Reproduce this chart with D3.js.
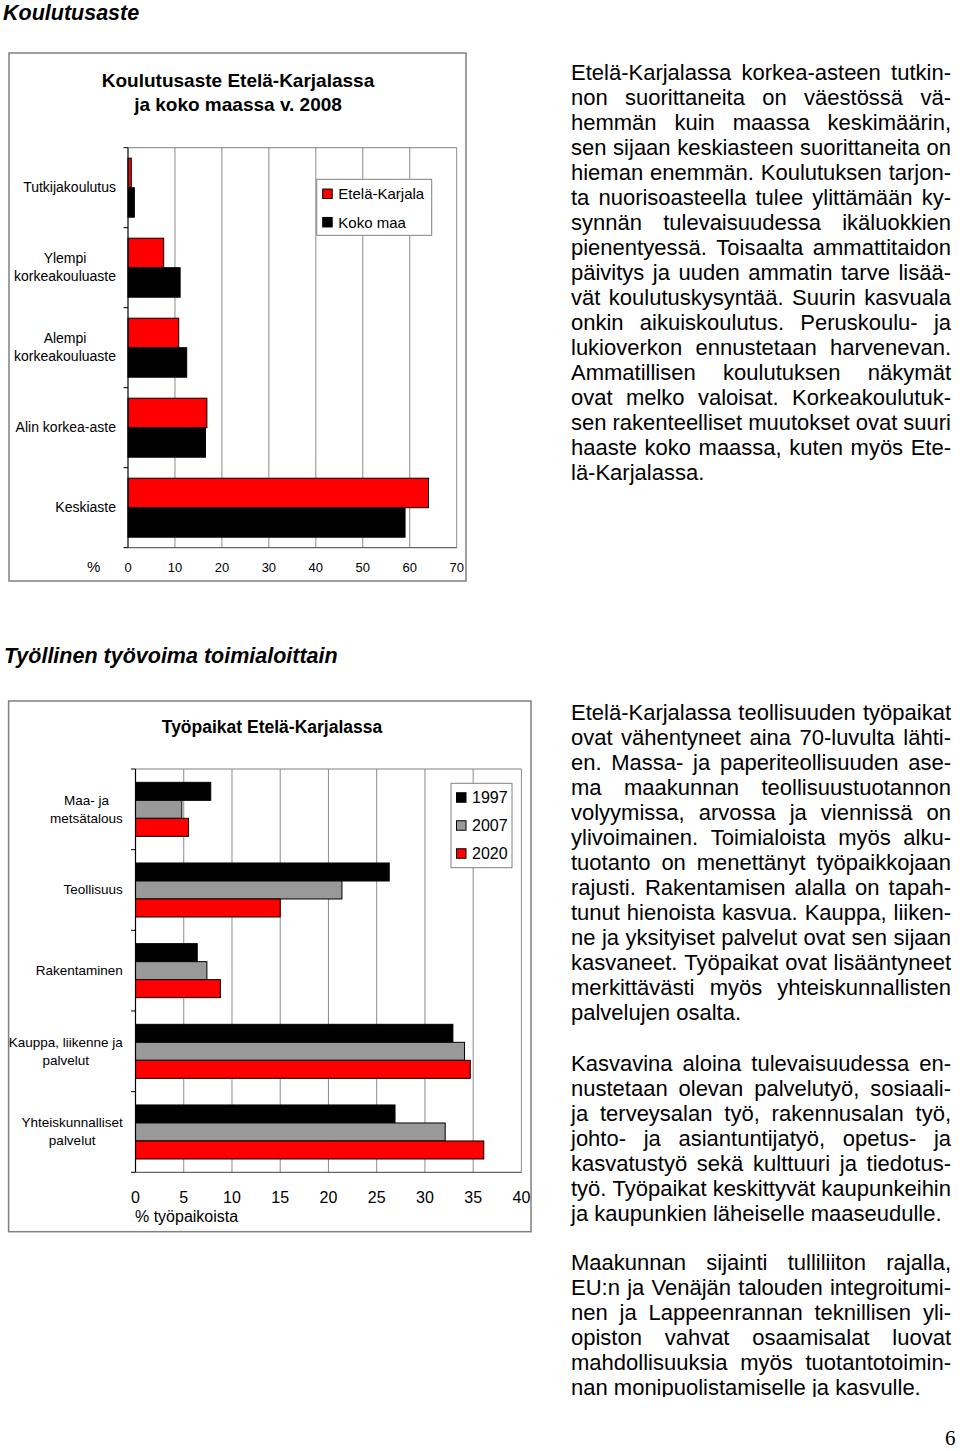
<!DOCTYPE html>
<html>
<head>
<meta charset="utf-8">
<script src="https://cdn.jsdelivr.net/npm/d3@7"></script>
<style>
  html, body { margin: 0; padding: 0; background: #fff; }
  svg { display: block; }
  text { font-family: "Liberation Sans", Arial, sans-serif; fill: #000; }
</style>
</head>
<body>
<script>
// ---------------- DATA ----------------
const eduCategories = ["Tutkijakoulutus", "Ylempi\nkorkeakouluaste", "Alempi\nkorkeakouluaste", "Alin korkea-aste", "Keskiaste"];
const eduSeriesNames = ["Etelä-Karjala", "Koko maa"];
const eduEtelaKarjala = [0.7, 7.6, 10.8, 16.8, 64.0];
const eduKokoMaa = [1.35, 11.1, 12.5, 16.5, 59.0];
const eduTicks = [0, 10, 20, 30, 40, 50, 60, 70];

const jobCategories = ["Maa- ja\nmetsätalous", "Teollisuus", "Rakentaminen", "Kauppa, liikenne ja\npalvelut", "Yhteiskunnalliset\npalvelut"];
const jobSeriesNames = ["1997", "2007", "2020"];
const jobs1997 = [7.8, 26.3, 6.4, 32.9, 26.9];
const jobs2007 = [4.8, 21.4, 7.4, 34.1, 32.1];
const jobs2020 = [5.5, 15.0, 8.8, 34.7, 36.1];
const jobTicks = [0, 5, 10, 15, 20, 25, 30, 35, 40];

const para1 = [
  "Etelä-Karjalassa korkea-asteen tutkin-",
  "non suorittaneita on väestössä vä-",
  "hemmän kuin maassa keskimäärin,",
  "sen sijaan keskiasteen suorittaneita on",
  "hieman enemmän. Koulutuksen tarjon-",
  "ta nuorisoasteella tulee ylittämään ky-",
  "synnän tulevaisuudessa ikäluokkien",
  "pienentyessä. Toisaalta ammattitaidon",
  "päivitys ja uuden ammatin tarve lisää-",
  "vät koulutuskysyntää. Suurin kasvuala",
  "onkin aikuiskoulutus. Peruskoulu- ja",
  "lukioverkon ennustetaan harvenevan.",
  "Ammatillisen koulutuksen näkymät",
  "ovat melko valoisat. Korkeakoulutuk-",
  "sen rakenteelliset muutokset ovat suuri",
  "haaste koko maassa, kuten myös Ete-",
  "lä-Karjalassa."
];
const para2 = [
  "Etelä-Karjalassa teollisuuden työpaikat",
  "ovat vähentyneet aina 70-luvulta lähti-",
  "en. Massa- ja paperiteollisuuden ase-",
  "ma maakunnan teollisuustuotannon",
  "volyymissa, arvossa ja viennissä on",
  "ylivoimainen. Toimialoista myös alku-",
  "tuotanto on menettänyt työpaikkojaan",
  "rajusti. Rakentamisen alalla on tapah-",
  "tunut hienoista kasvua. Kauppa, liiken-",
  "ne ja yksityiset palvelut ovat sen sijaan",
  "kasvaneet. Työpaikat ovat lisääntyneet",
  "merkittävästi myös yhteiskunnallisten",
  "palvelujen osalta."
];
const para3 = [
  "Kasvavina aloina tulevaisuudessa en-",
  "nustetaan olevan palvelutyö, sosiaali-",
  "ja terveysalan työ, rakennusalan työ,",
  "johto- ja asiantuntijatyö, opetus- ja",
  "kasvatustyö sekä kulttuuri ja tiedotus-",
  "työ. Työpaikat keskittyvät kaupunkeihin",
  "ja kaupunkien läheiselle maaseudulle."
];
const para4 = [
  "Maakunnan sijainti tulliliiton rajalla,",
  "EU:n ja Venäjän talouden integroitumi-",
  "nen ja Lappeenrannan teknillisen yli-",
  "opiston vahvat osaamisalat luovat",
  "mahdollisuuksia myös tuotantotoimin-",
  "nan monipuolistamiselle ja kasvulle."
];

// ---------------- SETUP ----------------
const W = 960, H = 1451;
const svg = d3.select("body").append("svg").attr("width", W).attr("height", H);

const measure = svg.append("text").attr("x", -1000).attr("y", -1000);
function textWidth(str, size, weight) {
  measure.attr("font-size", size).attr("font-weight", weight || "normal").text(str);
  return measure.node().getComputedTextLength();
}

// Section headings
svg.append("text").attr("x", 3).attr("y", 19.5)
  .attr("font-size", 21.5).attr("font-weight", "bold").attr("font-style", "italic")
  .text("Koulutusaste");
svg.append("text").attr("x", 4).attr("y", 663)
  .attr("font-size", 21.5).attr("font-weight", "bold").attr("font-style", "italic")
  .text("Työllinen työvoima toimialoittain");

// ---------------- Generic bar chart ----------------
function barChart(o) {
  const g = svg.append("g");
  // outer box
  g.append("rect").attr("x", o.box[0]).attr("y", o.box[1])
    .attr("width", o.box[2] - o.box[0]).attr("height", o.box[3] - o.box[1])
    .attr("fill", "#fff").attr("stroke", "#808080").attr("stroke-width", 1.5);

  // title
  o.title.forEach((t, i) => {
    g.append("text").attr("x", o.titleX).attr("y", o.titleY + i * o.titleLH)
      .attr("text-anchor", "middle").attr("font-size", o.titleSize).attr("font-weight", "bold")
      .text(t);
  });

  const x = d3.scaleLinear().domain([o.ticks[0], o.ticks[o.ticks.length - 1]]).range([o.plot[0], o.plot[1]]);
  const y = d3.scaleBand().domain(o.categories).range([o.plot[2], o.plot[3]]).padding(0);

  // gridlines
  g.append("g").selectAll("line").data(o.ticks.slice(1)).join("line")
    .attr("x1", d => x(d)).attr("x2", d => x(d))
    .attr("y1", o.plot[2]).attr("y2", o.plot[3])
    .attr("stroke", "#8c8c8c").attr("stroke-width", 1);
  // plot border top
  g.append("line").attr("x1", o.plot[0]).attr("x2", o.plot[1]).attr("y1", o.plot[2]).attr("y2", o.plot[2])
    .attr("stroke", "#808080").attr("stroke-width", 1);

  // bars
  const bw = y.bandwidth();
  const n = o.series.length;
  const total = o.barH * n;
  const off = (bw - total) / 2;
  o.series.forEach((vals, si) => {
    g.append("g").selectAll("rect").data(vals).join("rect")
      .attr("x", x(0))
      .attr("y", (d, i) => y(o.categories[i]) + off + si * o.barH)
      .attr("width", d => x(d) - x(0))
      .attr("height", o.barH)
      .attr("fill", o.colors[si])
      .attr("stroke", "#000").attr("stroke-width", 1);
  });

  // bottom axis line
  g.append("line").attr("x1", o.plot[0]).attr("x2", o.plot[1]).attr("y1", o.plot[3]).attr("y2", o.plot[3])
    .attr("stroke", "#404040").attr("stroke-width", 1);
  // left axis
  g.append("line").attr("x1", o.plot[0]).attr("x2", o.plot[0]).attr("y1", o.plot[2]).attr("y2", o.plot[3])
    .attr("stroke", "#000").attr("stroke-width", 1.2);
  const bounds = d3.range(o.categories.length + 1).map(i => o.plot[2] + i * bw);
  g.append("g").selectAll("line").data(bounds).join("line")
    .attr("x1", o.plot[0] - 4.5).attr("x2", o.plot[0]).attr("y1", d => d).attr("y2", d => d)
    .attr("stroke", "#000").attr("stroke-width", 1);

  // tick labels
  g.append("g").selectAll("text").data(o.ticks).join("text")
    .attr("x", d => x(d)).attr("y", o.tickY)
    .attr("text-anchor", "middle").attr("font-size", o.tickSize)
    .text(d => d);

  // category labels
  o.categories.forEach(c => {
    const lines = c.split("\n");
    const maxW = d3.max(lines, l => textWidth(l, o.catSize));
    const cx = o.catRight - maxW / 2;
    const cy = y(c) + bw / 2;
    lines.forEach((l, i) => {
      g.append("text").attr("x", cx)
        .attr("y", cy + o.catSize * 0.33 - (lines.length - 1) * o.catLH / 2 + i * o.catLH)
        .attr("text-anchor", "middle").attr("font-size", o.catSize).text(l);
    });
  });

  // legend
  const L = o.legend;
  g.append("rect").attr("x", L.box[0]).attr("y", L.box[1])
    .attr("width", L.box[2] - L.box[0]).attr("height", L.box[3] - L.box[1])
    .attr("fill", "#fff").attr("stroke", "#808080").attr("stroke-width", 1);
  o.seriesNames.forEach((s, i) => {
    const cy = L.firstY + i * L.step;
    g.append("rect").attr("x", L.sqX).attr("y", cy - L.sq / 2).attr("width", L.sq).attr("height", L.sq)
      .attr("fill", o.colors[i]).attr("stroke", "#000").attr("stroke-width", 1);
    g.append("text").attr("x", L.textX).attr("y", cy + L.size * 0.36)
      .attr("font-size", L.size).text(s);
  });
  return { g, x, y };
}

// ---------------- Chart 1 ----------------
const c1 = barChart({
  box: [9, 53, 466, 581],
  title: ["Koulutusaste Etelä-Karjalassa", "ja koko maassa v. 2008"],
  titleX: 238, titleY: 86.5, titleLH: 24.5, titleSize: 19,
  plot: [128, 456.7, 147.7, 547.7],
  categories: eduCategories,
  series: [eduEtelaKarjala, eduKokoMaa],
  seriesNames: eduSeriesNames,
  colors: ["#ff0000", "#000000"],
  ticks: eduTicks,
  barH: 29.5,
  tickY: 572, tickSize: 13,
  catRight: 116, catSize: 14, catLH: 18,
  legend: { box: [316.7, 179.3, 431.7, 235.3], sqX: 322.7, sq: 9.5, firstY: 193.8, step: 28.4, textX: 338.3, size: 15 }
});
c1.g.append("text").attr("x", 93.7).attr("y", 572).attr("text-anchor", "middle")
  .attr("font-size", 15).text("%");

// ---------------- Chart 2 ----------------
const c2 = barChart({
  box: [8.6, 701, 531, 1231.7],
  title: ["Työpaikat Etelä-Karjalassa"],
  titleX: 272, titleY: 733, titleLH: 0, titleSize: 17.5,
  plot: [135.5, 521.4, 769, 1172.3],
  categories: jobCategories,
  series: [jobs1997, jobs2007, jobs2020],
  seriesNames: jobSeriesNames,
  colors: ["#000000", "#999999", "#ff0000"],
  ticks: jobTicks,
  barH: 18,
  tickY: 1202.5, tickSize: 16,
  catRight: 122.8, catSize: 13.5, catLH: 18,
  legend: { box: [451, 783.3, 512, 867.7], sqX: 456.5, sq: 9.5, firstY: 797.5, step: 28, textX: 472, size: 16 }
});
c2.g.append("text").attr("x", 135).attr("y", 1221.5).attr("font-size", 16).text("% työpaikoista");

// ---------------- Justified paragraphs ----------------
svg.append("defs").append("clipPath").attr("id", "pageclip")
  .append("rect").attr("x", 0).attr("y", 0).attr("width", W).attr("height", 1397);
const textG = svg.append("g").attr("clip-path", "url(#pageclip)");
const PX = 571, PW = 380, FS = 22, LH = 25;

function paragraph(lines, y0) {
  lines.forEach((line, i) => {
    const y = y0 + i * LH;
    const t = textG.append("text").attr("y", y).attr("font-size", FS);
    const last = i === lines.length - 1;
    const words = line.split(" ");
    if (last || words.length < 2) {
      t.attr("x", PX).text(line);
      return;
    }
    const widths = words.map(w => textWidth(w, FS));
    const gap = (PW - d3.sum(widths)) / (words.length - 1);
    let cx = PX;
    words.forEach((w, k) => {
      t.append("tspan").attr("x", cx).text(w + (k < words.length - 1 ? " " : ""));
      cx += widths[k] + gap;
    });
  });
}
paragraph(para1, 80);
paragraph(para2, 719.5);
paragraph(para3, 1070.5);
paragraph(para4, 1270);

// page number
svg.append("text").attr("x", 945).attr("y", 1445)
  .style("font-family", "'Liberation Serif', 'Times New Roman', serif")
  .attr("font-size", 21).text("6");

measure.remove();
</script>
</body>
</html>
